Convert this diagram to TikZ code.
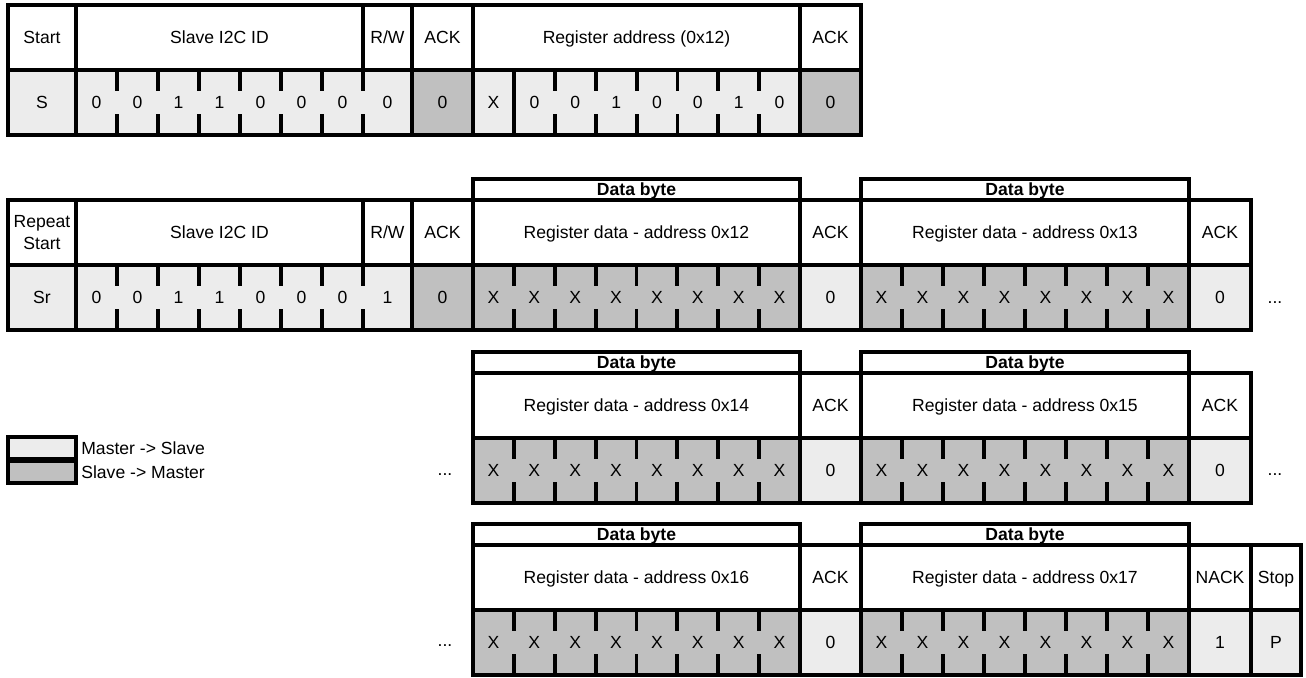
\documentclass[tikz,border=0pt]{standalone}
\usepackage{fontspec}
\setmainfont{Liberation Sans}
\usepackage{xcolor}
\usetikzlibrary{positioning}

\definecolor{mfill}{RGB}{236,236,236}
\definecolor{sfill}{RGB}{192,192,192}

\tikzset{
  frame/.style={draw=black, line width=2.2pt},
  cellbase/.style={inner sep=0pt, outer sep=0pt, minimum height={65*0.02cm}, font=\fontsize{10}{12.5}\selectfont},
  capline/.style={text height=7.2pt, text depth=0pt},
  hdr/.style={cellbase, capline, frame, fill=white},
  hdrtwo/.style={cellbase, frame, fill=white, align=center},
  mbit/.style={cellbase, capline, fill=mfill},
  sbit/.style={cellbase, capline, fill=sfill},
  mbox/.style={mbit, frame},
  sbox/.style={sbit, frame},
  byte/.style={cellbase, capline, frame, fill=white, minimum height={21*0.02cm}, font=\fontsize{10}{12.5}\selectfont\bfseries},
  tick/.style={line width=2.2pt},
  dots/.style={inner sep=0pt, font=\fontsize{10}{12.5}\selectfont},
  legbox/.style={frame, fill=#1, inner sep=0pt, outer sep=0pt, minimum width={68*0.02cm}, minimum height={22*0.02cm}},
  legtext/.style={inner sep=0pt, capline, font=\fontsize{10}{12.5}\selectfont},
}

% name, left, right, middle, style, text
\newcommand{\pktcell}[6]{%
  \node[#5, minimum width={(#3-#2)*0.02cm}] (#1) at ({(#2+#3)/2},#4) {#6};}
% prefix, left, bit width, middle, style, values
\newcommand{\pktbits}[6]{%
  \foreach \v [count=\i] in {#6} {
    \node[#5, minimum width={#3*0.02cm}] (#1\i) at ({#2+(\i-0.5)*#3},#4) {\v};
    \ifnum\i>1
      \draw[tick] (#1\i.north west) -- ++(0,21) (#1\i.south west) -- ++(0,-21);
    \fi
  }}

\begin{document}
\begin{tikzpicture}[x=0.02cm, y=-0.02cm]
  \useasboundingbox (0,0) rectangle (1306,677);

  % write: address
  \pktcell{start1}{8}{76}{37.5}{hdr}{Start}
  \pktcell{id1}{76}{363}{37.5}{hdr}{Slave I2C ID}
  \pktcell{rwh1}{363}{412}{37.5}{hdr}{R/W}
  \pktcell{ackh1}{412}{473}{37.5}{hdr}{ACK}
  \pktcell{regh1}{473}{800}{37.5}{hdr}{Register address (0x12)}
  \pktcell{ackh1b}{800}{861}{37.5}{hdr}{ACK}
  \pktcell{s1}{8}{76}{102.5}{mbox}{S}
  \pktbits{ida}{76}{41}{102.5}{mbit}{0,0,1,1,0,0,0}
  \pktcell{rwa}{363}{412}{102.5}{mbit}{0}
  \draw[tick] (rwa.north west) -- ++(0,21) (rwa.south west) -- ++(0,-21);
  \draw[frame] (ida1.north west) rectangle (rwa.south east);
  \pktcell{ack1}{412}{473}{102.5}{sbox}{0}
  \pktcell{xa}{473}{514}{102.5}{mbox}{X}
  \pktbits{rega}{514}{40.857}{102.5}{mbit}{0,0,1,0,0,1,0}
  \draw[frame] (rega1.north west) rectangle (rega7.south east);
  \pktcell{ack1b}{800}{861}{102.5}{sbox}{0}

  % read: 0x12, 0x13
  \pktcell{byte2a}{473}{800}{189.5}{byte}{Data byte}
  \pktcell{byte2b}{861}{1189}{189.5}{byte}{Data byte}
  \pktcell{start2}{8}{76}{232.5}{hdrtwo}{Repeat\\Start}
  \pktcell{id2}{76}{363}{232.5}{hdr}{Slave I2C ID}
  \pktcell{rwh2}{363}{412}{232.5}{hdr}{R/W}
  \pktcell{ackh2}{412}{473}{232.5}{hdr}{ACK}
  \pktcell{data2a}{473}{800}{232.5}{hdr}{Register data - address 0x12}
  \pktcell{ackh2b}{800}{861}{232.5}{hdr}{ACK}
  \pktcell{data2b}{861}{1189}{232.5}{hdr}{Register data - address 0x13}
  \pktcell{ackh2c}{1189}{1251}{232.5}{hdr}{ACK}
  \pktcell{sr2}{8}{76}{297.5}{mbox}{Sr}
  \pktbits{idb}{76}{41}{297.5}{mbit}{0,0,1,1,0,0,0}
  \pktcell{rwb}{363}{412}{297.5}{mbit}{1}
  \draw[tick] (rwb.north west) -- ++(0,21) (rwb.south west) -- ++(0,-21);
  \draw[frame] (idb1.north west) rectangle (rwb.south east);
  \pktcell{ack2}{412}{473}{297.5}{sbox}{0}
  \pktbits{x2a}{473}{40.875}{297.5}{sbit}{X,X,X,X,X,X,X,X}
  \draw[frame] (x2a1.north west) rectangle (x2a8.south east);
  \pktcell{ack2b}{800}{861}{297.5}{mbox}{0}
  \pktbits{x2b}{861}{41}{297.5}{sbit}{X,X,X,X,X,X,X,X}
  \draw[frame] (x2b1.north west) rectangle (x2b8.south east);
  \pktcell{ack2c}{1189}{1251}{297.5}{mbox}{0}
  \node[dots] (more2) at (1275,303) {...};

  % read: 0x14, 0x15
  \node[dots] (less3) at (445,475) {...};
  \pktcell{byte3a}{473}{800}{362.5}{byte}{Data byte}
  \pktcell{byte3b}{861}{1189}{362.5}{byte}{Data byte}
  \pktcell{data3a}{473}{800}{405.5}{hdr}{Register data - address 0x14}
  \pktcell{ackh3b}{800}{861}{405.5}{hdr}{ACK}
  \pktcell{data3b}{861}{1189}{405.5}{hdr}{Register data - address 0x15}
  \pktcell{ackh3c}{1189}{1251}{405.5}{hdr}{ACK}
  \pktbits{x3a}{473}{40.875}{470.5}{sbit}{X,X,X,X,X,X,X,X}
  \draw[frame] (x3a1.north west) rectangle (x3a8.south east);
  \pktcell{ack3b}{800}{861}{470.5}{mbox}{0}
  \pktbits{x3b}{861}{41}{470.5}{sbit}{X,X,X,X,X,X,X,X}
  \draw[frame] (x3b1.north west) rectangle (x3b8.south east);
  \pktcell{ack3c}{1189}{1251}{470.5}{mbox}{0}
  \node[dots] (more3) at (1275,475) {...};

  % read: 0x16, 0x17, stop
  \node[dots] (less4) at (445,646) {...};
  \pktcell{byte4a}{473}{800}{534.5}{byte}{Data byte}
  \pktcell{byte4b}{861}{1189}{534.5}{byte}{Data byte}
  \pktcell{data4a}{473}{800}{577.5}{hdr}{Register data - address 0x16}
  \pktcell{ackh4b}{800}{861}{577.5}{hdr}{ACK}
  \pktcell{data4b}{861}{1189}{577.5}{hdr}{Register data - address 0x17}
  \pktcell{nackh4}{1189}{1251}{577.5}{hdr}{NACK}
  \pktcell{stoph4}{1251}{1301}{577.5}{hdr}{Stop}
  \pktbits{x4a}{473}{40.875}{642.5}{sbit}{X,X,X,X,X,X,X,X}
  \draw[frame] (x4a1.north west) rectangle (x4a8.south east);
  \pktcell{ack4b}{800}{861}{642.5}{mbox}{0}
  \pktbits{x4b}{861}{41}{642.5}{sbit}{X,X,X,X,X,X,X,X}
  \draw[frame] (x4b1.north west) rectangle (x4b8.south east);
  \pktcell{nack4}{1189}{1251}{642.5}{mbox}{1}
  \pktcell{p4}{1251}{1301}{642.5}{mbox}{P}

  % legend
  \node[legbox=mfill] (legm) at (42,448) {};
  \node[legbox=sfill, below=0.04cm of legm] (legs) {};
  \node[legtext, right=0.1cm of legm] (legmt) {Master -> Slave};
  \node[legtext, right=0.1cm of legs] (legst) {Slave -> Master};
\end{tikzpicture}
\end{document}
